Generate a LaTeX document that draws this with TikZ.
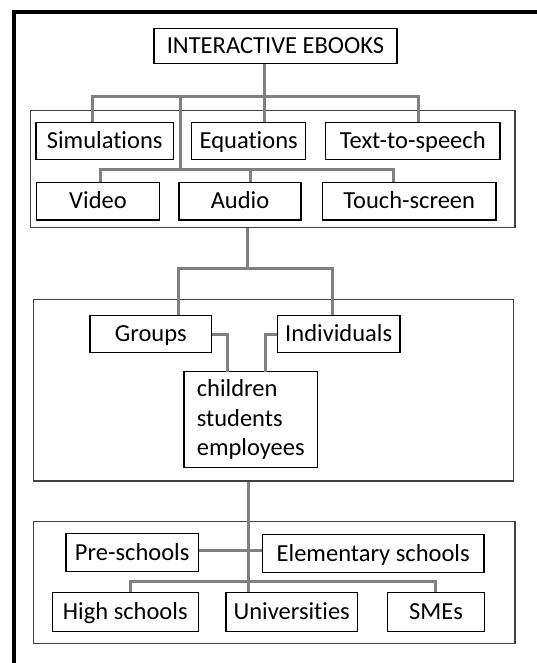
\documentclass[tikz,border=0pt]{standalone}
\usepackage{fontspec}
\setmainfont{Carlito}[Ligatures=NoCommon]
\usepackage{xcolor}

\begin{document}
\begin{tikzpicture}[x=1pt,y=1pt,yscale=-1,xscale=1,
  box/.style={draw, line width=1.2pt, inner sep=0pt, text height=18.4pt, text depth=3.4pt, font=\fontsize{24.5}{29.3}\selectfont},
  group/.style={draw={rgb, 255:red, 64; green, 64; blue, 64}, line width=1.3pt, inner sep=0pt},
  link/.style={draw={rgb, 255:red, 128; green, 128; blue, 128}, line width=3pt}]
\useasboundingbox (0,0) rectangle (537,663);

%Shape: Frame
\draw [line width=4pt] (14,663) -- (14,12) -- (537,12) ;

%Shape: Rectangle (groups)
\node [group, minimum width=484.3pt, minimum height=117pt] (grpA) at (272.9,169.2) {};
\node [group, minimum width=480pt, minimum height=181.7pt] (grpB) at (273.3,390.2) {};
\node [group, minimum width=481.7pt, minimum height=121.6pt] (grpC) at (274.2,582.5) {};

% Text Node
\node [box, minimum width=243pt, minimum height=34.6pt] (title) at (275.5,46) {INTERACTIVE EBOOKS};
% Text Node
\node [box, minimum width=137.3pt, minimum height=36.6pt] (sim) at (104.7,141) {Simulations};
\node [box, minimum width=114pt, minimum height=36.6pt] (eq) at (248.7,141) {Equations};
\node [box, minimum width=174.3pt, minimum height=36.6pt] (tts) at (412.8,141) {Text-to-speech};
% Text Node
\node [box, minimum width=122.6pt, minimum height=37.3pt] (video) at (98,201.3) {Video};
\node [box, minimum width=122pt, minimum height=37.3pt] (audio) at (240,201.3) {Audio};
\node [box, minimum width=173.7pt, minimum height=37.3pt] (touch) at (409.2,201.3) {Touch-screen};
% Text Node
\node [box, minimum width=121.7pt, minimum height=37.4pt] (groups) at (150.8,334) {Groups};
\node [box, minimum width=122.7pt, minimum height=37.4pt] (indiv) at (338.7,334) {Individuals};
\node [box, text height={}, text depth={}, minimum width=133.3pt, minimum height=95.6pt, align=left] (kids) at (250.7,419.5) {children\\students\\employees};
% Text Node
\node [box, minimum width=132.3pt, minimum height=38.4pt] (pre) at (132.2,552.5) {Pre-schools};
\node [box, minimum width=221.7pt, minimum height=38.4pt] (elem) at (373.2,553.5) {Elementary schools};
\node [box, minimum width=146pt, minimum height=39pt] (high) at (125.3,612.2) {High schools};
\node [box, minimum width=131.3pt, minimum height=39pt] (univ) at (291.7,612.2) {Universities};
\node [box, minimum width=96.6pt, minimum height=39pt] (sme) at (436,612.2) {SMEs};

% junctions
\coordinate (b1w) at (92,97);
\coordinate (b1m) at (264,97);
\coordinate (b1v) at (180,97);
\coordinate (b1e) at (418,97);
\coordinate (b2w) at (100,170);
\coordinate (b2m) at (250.7,170);
\coordinate (b2e) at (393.3,170);
\coordinate (b3w) at (178.3,268.3);
\coordinate (b3m) at (247.3,268.3);
\coordinate (b3e) at (332.3,268.3);
\coordinate (kl) at (227.3,371.7);
\coordinate (kr) at (265.7,371.7);
\coordinate (c4) at (248.3,550);
\coordinate (b4w) at (130,581.7);
\coordinate (b4e) at (435,581.7);

%Straight Lines
\draw [link] (title.south -| b1m) -- (b1m) ;
\draw [link] (sim.north -| b1w) -- (b1w) -- (b1e) -- (tts.north -| b1e) ;
\draw [link] (b1m) -- (eq.north -| b1m) ;
\draw [link] (b1v) -- (b1v |- b2w) ;
%Straight Lines
\draw [link] (video.north -| b2w) -- (b2w) -- (b2e) -- (touch.north -| b2e) ;
\draw [link] (b2m) -- (audio.north -| b2m) ;
%Straight Lines
\draw [link] (grpA.south -| b3m) -- (b3m) ;
\draw [link] (groups.north -| b3w) -- (b3w) -- (b3e) -- (indiv.north -| b3e) ;
\draw [link] (groups.east) -| (kl) ;
\draw [link] (indiv.west) -| (kr) ;
%Straight Lines
\draw [link] (grpB.south -| c4) -- (univ.north -| c4) ;
\draw [link] (pre.east |- c4) -- (elem.west |- c4) ;
\draw [link] (high.north -| b4w) -- (b4w) -- (b4e) -- (sme.north -| b4e) ;

\end{tikzpicture}
\end{document}
